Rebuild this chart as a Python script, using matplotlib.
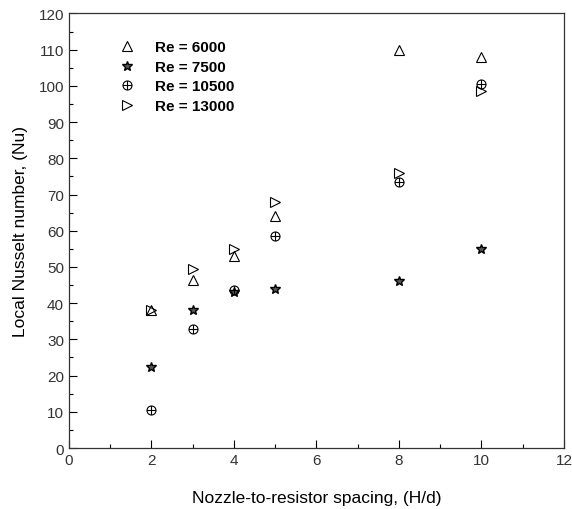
import matplotlib
matplotlib.use('Agg')
import matplotlib.pyplot as plt
from matplotlib.path import Path
from matplotlib.ticker import MultipleLocator

plt.rcParams['font.family'] = ['Liberation Sans', 'DejaVu Sans']

# H/d spacing and local Nusselt number per Reynolds number
spacing = [2, 3, 4, 5, 8, 10]
nu_6000 = [38, 46.5, 53, 64, 110, 108]
nu_7500 = [22.5, 38, 43, 44, 46, 55]
nu_10500 = [10.5, 33, 43.5, 58.5, 73.5, 100.5]
nu_13000 = [38, 49.5, 55, 68, 76, 98.5]
labels = ['Re = 6000', 'Re = 7500', 'Re = 10500', 'Re = 13000']

# circle with a cross inside
circ = Path.unit_circle()
cross = Path([(-1, 0), (1, 0), (0, -1), (0, 1)],
             [Path.MOVETO, Path.LINETO, Path.MOVETO, Path.LINETO])
circle_plus = Path.make_compound_path(circ, cross)

fig = plt.figure(figsize=(5.72, 5.10), dpi=100)
ax = fig.add_axes([0.1206, 0.1196, 0.8654, 0.852])

kw = dict(linestyle='none', color='black', markerfacecolor='none', markeredgewidth=0.8)
ax.plot(spacing, nu_6000, marker='^', markersize=7.5, label=labels[0], **kw)
ax.plot(spacing, nu_7500, marker='*', markersize=7.5, label=labels[1],
        linestyle='none', color='black', markerfacecolor='#555555', markeredgewidth=1.0)
ax.plot(spacing, nu_10500, marker=circle_plus, markersize=6.5, label=labels[2], **kw)
ax.plot(spacing, nu_13000, marker='>', markersize=7.5, label=labels[3], **kw)

ax.set_xlim(0, 12)
ax.set_ylim(0, 120)
ax.xaxis.set_major_locator(MultipleLocator(2))
ax.xaxis.set_minor_locator(MultipleLocator(1))
ax.yaxis.set_major_locator(MultipleLocator(10))
ax.yaxis.set_minor_locator(MultipleLocator(5))
ax.tick_params(which='both', direction='in', top=False, right=False,
               labelsize=11, labelcolor='#333333')
ax.tick_params(which='major', length=6, width=0.8)
ax.tick_params(which='minor', length=3, width=0.8)
for s in ax.spines.values():
    s.set_linewidth(0.9)
    s.set_color('#333333')

ax.set_xlabel('Nozzle-to-resistor spacing, (H/d)', fontsize=12.5, labelpad=17)
ax.set_ylabel('Local Nusselt number, (Nu)', fontsize=12.5, labelpad=8)

ax.legend(loc='upper left', bbox_to_anchor=(0.09, 0.952), frameon=False,
          borderaxespad=0, handlelength=1.0, handletextpad=1.3, labelspacing=0.36,
          prop={'weight': 'bold', 'size': 11})

fig.savefig('out.png', dpi=100)
